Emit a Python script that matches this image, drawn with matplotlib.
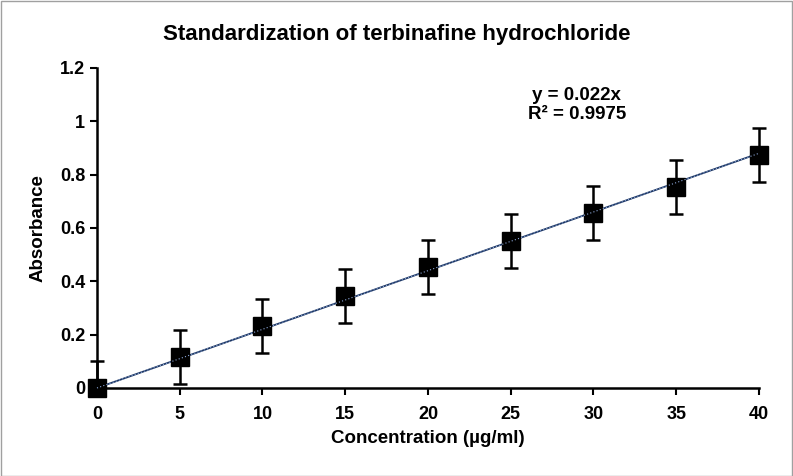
import matplotlib.pyplot as plt
import numpy as np

plt.rcParams["font.family"] = ["Liberation Sans", "DejaVu Sans"]
plt.rcParams["font.weight"] = "bold"

conc = [0, 5, 10, 15, 20, 25, 30, 35, 40]
absorbance = [0.0, 0.116, 0.232, 0.345, 0.454, 0.551, 0.656, 0.754, 0.874]
err = [0.1] * len(conc)
slope = 0.022

fig = plt.figure(figsize=(7.93, 4.76), dpi=100)
ax = fig.add_axes([0.1223, 0.1849, 0.8348, 0.6723])

# trendline (linear through origin)
xs = np.array([0, 40])
ax.plot(xs, slope * xs, color="#1f3864", linewidth=1.3, zorder=2)

# error bars stop at the x axis (nothing drawn below zero)
lower = [min(e, y) for e, y in zip(err, absorbance)]
ax.errorbar(conc, absorbance, yerr=[lower, err], fmt="none", ecolor="black",
            elinewidth=1.8, capsize=5, capthick=1.8, zorder=3, clip_on=False)
ax.plot(conc, absorbance, "s", color="black", markersize=13, zorder=4, clip_on=False)
ax.plot(xs, slope * xs, color="#8faadc", linewidth=0.8, linestyle=(0, (1, 2)),
        zorder=5, clip_on=False)

ax.set_xlim(0, 40)
ax.set_ylim(0, 1.2)
ax.set_xticks(range(0, 41, 5))
ax.set_yticks([0, 0.2, 0.4, 0.6, 0.8, 1.0, 1.2])
ax.set_yticklabels(["0", "0.2", "0.4", "0.6", "0.8", "1", "1.2"])
ax.tick_params(labelsize=13, width=1.5, length=5, direction="out")
ax.tick_params(axis="x", pad=8)
for s in ["top", "right"]:
    ax.spines[s].set_visible(False)
for s in ["left", "bottom"]:
    ax.spines[s].set_linewidth(1.8)

ax.set_xlabel("Concentration (µg/ml)", fontsize=13.5, fontweight="bold", labelpad=5)
ax.set_ylabel("Absorbance", fontsize=13.5, fontweight="bold", labelpad=10)
fig.text(0.5, 0.928, "Standardization of terbinafine hydrochloride", ha="center",
         va="center", fontsize=16, fontweight="bold")
ax.text(0.725, 0.94, "y = 0.022x\nR² = 0.9975", transform=ax.transAxes, ha="center",
        va="top", fontsize=13.5, fontweight="bold", linespacing=1.15)

fig.patches.append(plt.Rectangle((0.001, 0.001), 0.998, 0.997, transform=fig.transFigure,
                                 fill=False, edgecolor="#a0a0a0", linewidth=1))
fig.savefig("out.png", dpi=100)
